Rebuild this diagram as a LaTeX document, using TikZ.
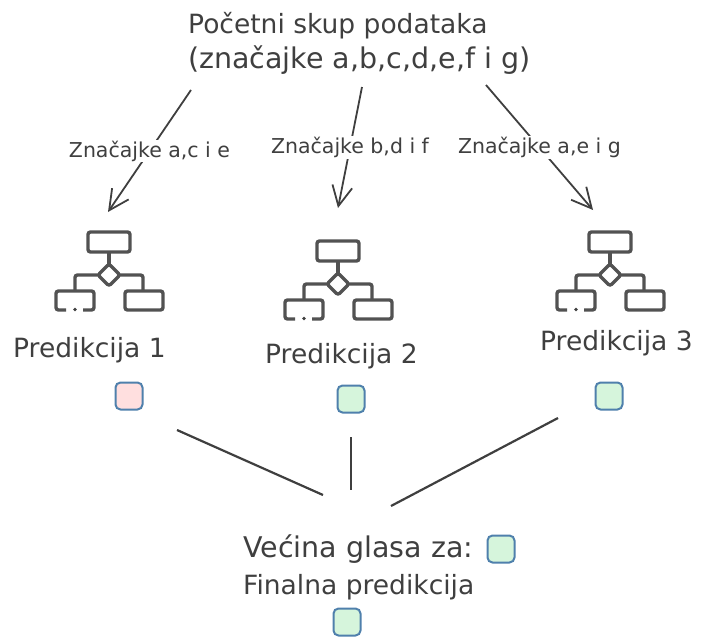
\documentclass[tikz,border=0pt]{standalone}
\usepackage{fontspec}
\setmainfont{DejaVu Sans}
\usepackage{tikz}
\usetikzlibrary{arrows.meta, positioning}
\definecolor{inkgray}{HTML}{3F3F3F}
\definecolor{boxblue}{HTML}{4F80AC}
\definecolor{votegreen}{HTML}{D6F5DC}
\definecolor{votered}{HTML}{FFDFDF}
\tikzset{
    bigtext/.style={anchor=west, inner sep=0pt, text=inkgray, font=\fontsize{26.5}{30}\selectfont},
    widetext/.style={bigtext, font=\fontsize{28.5}{30}\selectfont},
    edgetext/.style={fill=white, inner sep=1pt, text=inkgray, font=\fontsize{20.5}{22}\selectfont},
    arrowline/.style={draw=inkgray, line width=1.8pt, -{Straight Barb[length=20pt,width=20pt]}},
    voteline/.style={draw=inkgray, line width=2.2pt},
    votebox/.style={draw=boxblue, line width=2pt, rounded corners=5pt, minimum size=27pt, inner sep=0pt},
    treeicon/.pic={
        \begin{scope}[draw=inkgray!90, line width=3.4pt, rounded corners=2.5pt]
            \draw (-21,-43) rectangle (21,-23);
            \draw (0,-23) -- (0,-11);
            \draw (0,-11) -- (11,0) -- (0,11) -- (-11,0) -- cycle;
            \draw (-11,0) -- (-34,0) -- (-34,16);
            \draw (11,0) -- (34,0) -- (34,16);
            \draw (16,16) rectangle (54,35);
            \draw (-43,35) -- (-53,35) -- (-53,16) -- (-15,16) -- (-15,35) -- (-26,35);
        \end{scope}
        \fill[inkgray] (-34,34.5) circle (1.8pt);
    }
}
\begin{document}
\begin{tikzpicture}[x=1pt, y=-1pt]
\useasboundingbox (0,0) rectangle (704,637);

% Dataset text
\node[bigtext] (dataset) at (188,26) {Početni skup podataka};
\node[widetext] (features) at (188,60) {(značajke a,b,c,d,e,f i g)};

% Arrows to the trees
\coordinate (start1) at (191,90);
\coordinate (start2) at (362,87);
\coordinate (start3) at (486,85);
\coordinate (end1) at (108,212);
\coordinate (end2) at (338,208);
\coordinate (end3) at (593,210);
\draw[arrowline] (start1) -- node[edgetext] (subset1) {Značajke a,c i e} (end1);
\draw[arrowline] (start2) -- node[edgetext] (subset2) {Značajke b,d i f} (end2);
\draw[arrowline] (start3) -- node[edgetext] (subset3) {Značajke a,e i g} (end3);

% Trees
\pic at (109,275) {treeicon};
\pic at (338,284) {treeicon};
\pic at (610,275) {treeicon};

% Predictions
\node[bigtext] (pred1) at (13,350) {Predikcija 1};
\node[bigtext] (pred2) at (265,356) {Predikcija 2};
\node[bigtext] (pred3) at (540,343) {Predikcija 3};
\node[votebox, fill=votered] (vote1) at (129,396) {};
\node[votebox, fill=votegreen] (vote2) at (351,399) {};
\node[votebox, fill=votegreen] (vote3) at (609,396) {};

% Lines to the majority vote
\coordinate (top1) at (177,430);
\coordinate (top2) at (351,437);
\coordinate (top3) at (558,418);
\coordinate (bottom1) at (323,495);
\coordinate (bottom2) at (351,490);
\coordinate (bottom3) at (391,506);
\draw[voteline] (top1) -- (bottom1);
\draw[voteline] (top2) -- (bottom2);
\draw[voteline] (top3) -- (bottom3);

% Majority vote
\node[widetext] (majority) at (243,549) {Većina glasa za:};
\node[bigtext] (final) at (243,587) {Finalna predikcija};
\node[votebox, fill=votegreen] (vote4) at (501,549) {};
\node[votebox, fill=votegreen] (vote5) at (347,622) {};
\end{tikzpicture}
\end{document}
